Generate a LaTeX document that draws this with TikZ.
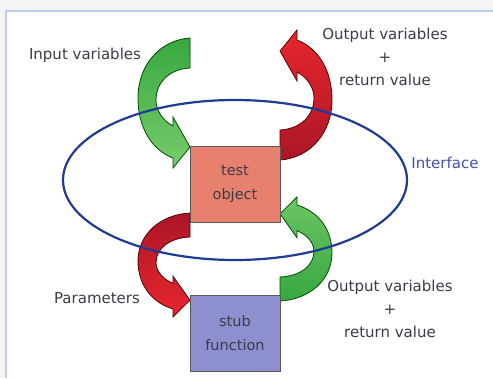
\documentclass[tikz,border=0pt]{standalone}
\usepackage{fontspec}
\setmainfont{DejaVu Sans}
\usepackage{tikz}
\usetikzlibrary{positioning}
\definecolor{clrFrame}{RGB}{192,204,238}
\definecolor{clrOutside}{RGB}{245,245,248}
\definecolor{clrText}{RGB}{60,60,72}
\definecolor{clrInterface}{RGB}{30,60,150}
\definecolor{clrInterfaceText}{RGB}{70,80,180}
\definecolor{clrTest}{RGB}{232,128,110}
\definecolor{clrStub}{RGB}{142,143,207}
\definecolor{clrGreenDark}{RGB}{55,168,65}
\definecolor{clrGreenLight}{RGB}{120,204,108}
\definecolor{clrRedDark}{RGB}{172,22,40}
\definecolor{clrRedLight}{RGB}{232,38,46}
\tikzstyle{box_style}=[draw=black!65, line width=1pt, minimum width=90pt,
minimum height=76pt, text=clrText, align=center, font=\fontsize{14.5}{24}\selectfont]
\tikzstyle{label_style}=[text=clrText, align=center, font=\fontsize{15}{23}\selectfont]
\tikzstyle{green_arrow}=[draw=green!30!black, line width=0.8pt]
\tikzstyle{red_arrow}=[draw=red!35!black, line width=0.8pt]
\tikzstyle{green_down}=[green_arrow, top color=clrGreenDark, bottom color=clrGreenLight]
\tikzstyle{green_up}=[green_arrow, top color=clrGreenLight!80!clrGreenDark, bottom color=clrGreenDark]
\tikzstyle{red_down}=[red_arrow, top color=clrRedDark, bottom color=clrRedLight]
\tikzstyle{red_up}=[red_arrow, top color=clrRedLight, bottom color=clrRedDark]
% bent block arrow, tail at (0,0), head pointing right
\newcommand{\bentarrow}{(0,0) .. controls (-30,2) and (-52,27) .. (-52,60)
  .. controls (-52,90) and (-38,112) .. (-17,120)
  -- (-17,130) -- (0,109) -- (-17,79) -- (-17,88)
  .. controls (-28,82) and (-34,72) .. (-34,62)
  .. controls (-34,44) and (-20,31) .. (0,30) -- cycle}

\begin{document}
\begin{tikzpicture}[x=1pt, y=-1pt]
		\useasboundingbox (0,0) rectangle (493,378);
		\fill[clrOutside] (0,0) rectangle (493,378);
		\fill[white] (6,11) rectangle (493,378);
		\draw[clrFrame, line width=2pt] (6,378) -- (6,11) -- (493,11);

		% arrows between the boxes
		\begin{scope}[shift={(190,38)}]
			\path[green_down] \bentarrow;
		\end{scope}
		\begin{scope}[rotate around={180:(235,99)}, shift={(190,38)}]
			\path[red_up] \bentarrow;
		\end{scope}
		\begin{scope}[shift={(190,213)}, yscale=0.8]
			\path[red_down] \bentarrow;
		\end{scope}
		\begin{scope}[rotate around={180:(235,257)}, shift={(190,213)}, yscale=0.8]
			\path[green_up] \bentarrow;
		\end{scope}

		\draw[clrInterface, line width=2.2pt] (235,180) ellipse [x radius=172, y radius=80];

		\node[box_style, fill=clrTest] (test) at (235,184) {test\\object} ;
		\node[box_style, fill=clrStub, below=72pt of test] (stub) {stub\\function} ;

		\node[label_style] (input) at (85,55) {Input variables} ;
		\node[label_style] (outtop) at (385,57) {Output variables\\+\\return value} ;
		\node[label_style, text=clrInterfaceText] (interface) at (445,163) {Interface} ;
		\node[label_style] (params) at (97,298) {Parameters} ;
		\node[label_style] (outbottom) at (390,309) {Output variables\\+\\return value} ;
	\end{tikzpicture}
\end{document}
